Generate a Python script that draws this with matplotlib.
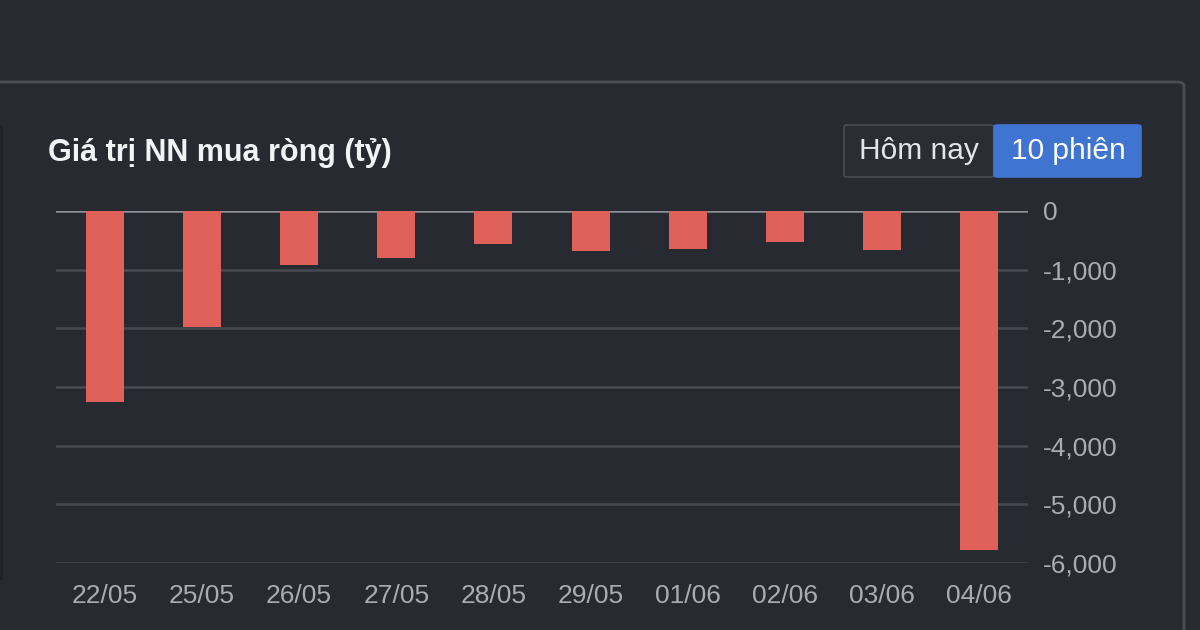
import matplotlib.pyplot as plt
from matplotlib.patches import FancyBboxPatch, Rectangle
from matplotlib.ticker import FuncFormatter

plt.rcParams['font.family'] = ['Liberation Sans', 'DejaVu Sans']

ngay = ['22/05', '25/05', '26/05', '27/05', '28/05', '29/05', '01/06', '02/06', '03/06', '04/06']
gia_tri = [-3250, -1980, -920, -800, -570, -690, -640, -520, -670, -5770]
y_ticks = [0, -1000, -2000, -3000, -4000, -5000, -6000]

bg = '#272a31'
bar_color = '#e0605a'
grid_color = '#474a51'
text_color = '#a9acb2'

fig = plt.figure(figsize=(12, 6.3), dpi=100, facecolor=bg)

# khung panel
panel = FancyBboxPatch((-20 / 1200, -20 / 630), (1184 + 20) / 1200, (630 - 82 + 20) / 630,
                       boxstyle='round,pad=0,rounding_size=0.006', transform=fig.transFigure,
                       facecolor=bg, edgecolor='#4b4e55', linewidth=2, zorder=-2)
fig.patches.append(panel)
fig.patches.append(Rectangle((0, 50 / 630), 3 / 1200, (505 - 50) / 630, transform=fig.transFigure,
                             facecolor='#202228', edgecolor='none', zorder=-1))

ax = fig.add_axes([56 / 1200, 67 / 630, 972 / 1200, 352 / 630])
ax.set_zorder(2)
ax.patch.set_alpha(0)
x = range(len(ngay))
ax.bar(x, gia_tri, width=0.39, color=bar_color, zorder=3)

ax.set_xlim(-0.5, len(ngay) - 0.5)
ax.set_ylim(-6000, 0)
ax.set_yticks(y_ticks)
ax.yaxis.set_major_formatter(FuncFormatter(lambda v, p: '{:,.0f}'.format(v)))
ax.yaxis.tick_right()
ax.set_xticks(list(x))
ax.set_xticklabels(ngay)
ax.tick_params(axis='both', length=0, labelsize=19, colors=text_color)
ax.tick_params(axis='y', pad=11)
ax.tick_params(axis='x', pad=15)
for lbl in ax.get_yticklabels():
    lbl.set_horizontalalignment('left')

for v in y_ticks:
    ax.axhline(v, color='#8c8f95' if v == 0 else grid_color, linewidth=1.8, zorder=1)
for s in ax.spines.values():
    s.set_visible(False)

fig.text(48 / 1200, 1 - 153 / 630, 'Giá trị NN mua ròng (tỷ)', fontsize=22, fontweight='bold',
         color='#f2f3f5', va='center', ha='left')

# nut chon
btn1 = FancyBboxPatch((844 / 1200, 1 - 177 / 630), 150 / 1200, 52 / 630,
                      boxstyle='round,pad=0,rounding_size=0.003', transform=fig.transFigure,
                      facecolor='#2a2d34', edgecolor='#494c53', linewidth=1.2)
btn2 = FancyBboxPatch((994 / 1200, 1 - 177 / 630), 147 / 1200, 52 / 630,
                      boxstyle='round,pad=0,rounding_size=0.003', transform=fig.transFigure,
                      facecolor='#3f74d1', edgecolor='#3f74d1', linewidth=1.2)
fig.patches.append(btn1)
fig.patches.append(btn2)
fig.text(919 / 1200, 1 - 151 / 630, 'Hôm nay', fontsize=21.5, color='#e4e5e8', ha='center', va='center')
fig.text(1068 / 1200, 1 - 151 / 630, '10 phiên', fontsize=21.5, color='#ffffff', ha='center', va='center')

fig.savefig('out.png', dpi=100, facecolor=bg)
